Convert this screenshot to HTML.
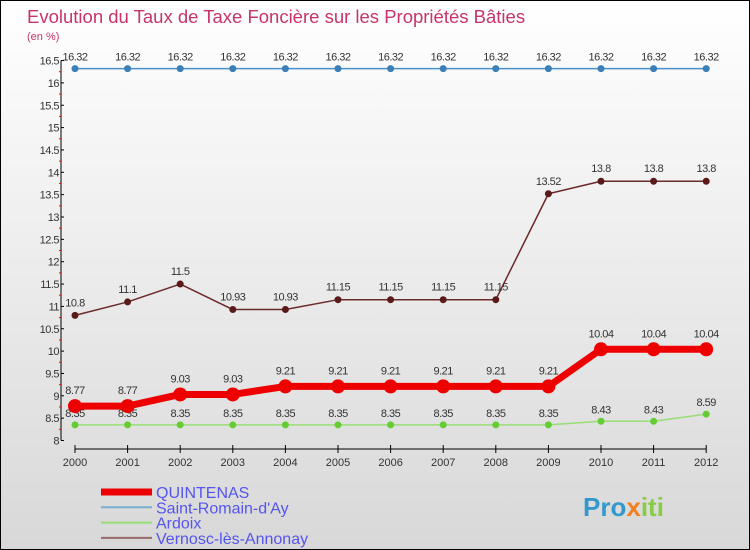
<!DOCTYPE html>
<html><head><meta charset="utf-8"><style>
body{margin:0}
#c{width:750px;height:550px;position:relative;box-sizing:border-box;border:1px solid #000;background:linear-gradient(#fff,#d8d8d8);font-family:"Liberation Sans",sans-serif;overflow:hidden}
</style></head><body>
<div id="c">
<svg id="s" width="748" height="548" style="position:absolute;left:0;top:0"></svg>
</div>
<script>
const years=[2000,2001,2002,2003,2004,2005,2006,2007,2008,2009,2010,2011,2012];
const quintenas=[8.77,8.77,9.03,9.03,9.21,9.21,9.21,9.21,9.21,9.21,10.04,10.04,10.04];
const saintRomain=[16.32,16.32,16.32,16.32,16.32,16.32,16.32,16.32,16.32,16.32,16.32,16.32,16.32];
const ardoix=[8.35,8.35,8.35,8.35,8.35,8.35,8.35,8.35,8.35,8.35,8.43,8.43,8.59];
const vernosc=[10.8,11.1,11.5,10.93,10.93,11.15,11.15,11.15,11.15,13.52,13.8,13.8,13.8];
const yTicks=[8,8.5,9,9.5,10,10.5,11,11.5,12,12.5,13,13.5,14,14.5,15,15.5,16,16.5];
const NS="http://www.w3.org/2000/svg",s=document.getElementById('s');
const X=i=>74+i*52.6, Y=v=>439.5-(v-8)*44.7;
function mk(t,a,p){const e=document.createElementNS(NS,t);for(const k in a)e.setAttribute(k,a[k]);(p||s).appendChild(e);return e;}
let t=mk('text',{x:26,y:22,fill:'#c8336a','font-size':18.5});t.textContent='Evolution du Taux de Taxe Foncière sur les Propriétés Bâties';

t=mk('text',{x:26,y:39,fill:'#c8336a','font-size':11});t.textContent='(en %)';

let ax=mk('line',{x1:60,y1:Y(16.5),x2:60,y2:Y(8),stroke:'#000'});

yTicks.forEach(v=>{mk('line',{x1:60,x2:63,y1:Y(v),y2:Y(v),stroke:'#000'});
 mk('line',{x1:58,x2:60,y1:Y(v+0.25),y2:Y(v+0.25),stroke:v<16.5?'red':'none'});
 const l=mk('text',{x:58,y:Y(v)+4,'text-anchor':'end','font-size':11,fill:'#333','letter-spacing':'-0.5'});l.textContent=String(v);
 });
ax=mk('line',{x1:X(0),x2:X(12),y1:448,y2:448,stroke:'#000'});

years.forEach((yr,i)=>{mk('line',{x1:X(i),x2:X(i),y1:444,y2:452,stroke:'#000'});
 const l=mk('text',{x:X(i),y:465,'text-anchor':'middle','font-size':11,fill:'#333'});l.textContent=yr;
 });
function series(d,col,w,r,dot,name,lblOff){
 const g=mk('g',{});
 mk('polyline',{points:d.map((v,i)=>X(i)+','+Y(v)).join(' '),fill:'none',stroke:col,'stroke-width':w,'stroke-linejoin':'round'},g);
 d.forEach((v,i)=>{const c=mk('circle',{cx:X(i),cy:Y(v),r:r,fill:dot},g);
  
  const l=mk('text',{x:X(i),y:Y(v)-lblOff,'text-anchor':'middle','font-size':11,fill:'#333','letter-spacing':'-0.5'},g);l.textContent=v;
  });
}
series(saintRomain,'#4a90c8',1.5,3.5,'#3a7fb8','saint-romain',8);
series(vernosc,'#6b2a2a',1.5,3.5,'#5a1a1a','vernosc',9);
series(ardoix,'#99dd77',1.5,3.5,'#66cc33','ardoix',8);
series(quintenas,'#ee0000',7,7,'#ee0000','quintenas',12);
const legend=[['QUINTENAS','#ee0000',7],['Saint-Romain-d\'Ay','#7aaed0',2],['Ardoix','#99dd77',2],['Vernosc-lès-Annonay','#9a6a6a',2]];
legend.forEach((L,i)=>{const y=491+i*15.3;const g=mk('g',{});
 mk('line',{x1:100,x2:151,y1:y,y2:y,stroke:L[1],'stroke-width':L[2]},g);
 const l=mk('text',{x:155,y:y+6,'font-size':16,fill:'#5555ee'},g);l.textContent=L[0];});
t=mk('text',{x:582,y:515,'font-size':26,'font-weight':'bold',fill:'#3399cc'});t.innerHTML='Pro<tspan fill="#f08020">x</tspan><tspan fill="#88cc44">iti</tspan>';

</script>
</body></html>
